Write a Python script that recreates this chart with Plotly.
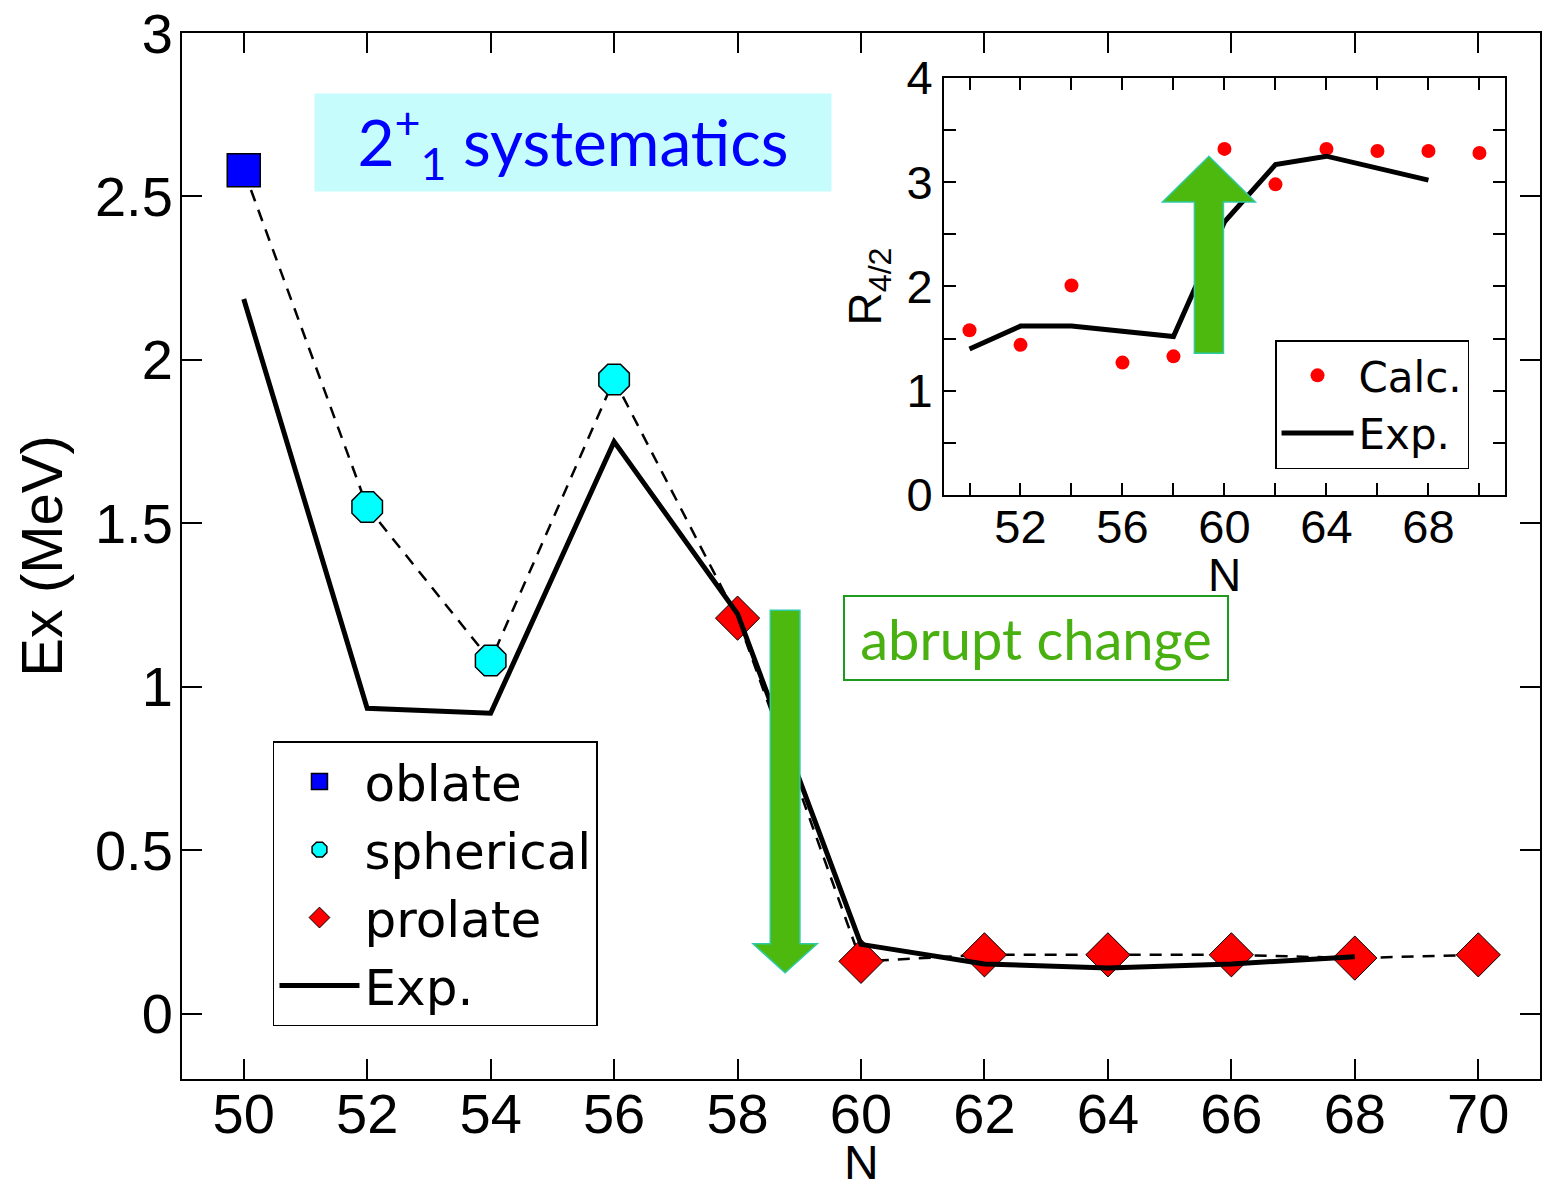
import plotly.graph_objects as go

# ---------------- Main panel data (E(2+_1) in MeV vs N) ----------------
oblate_N = [50]
oblate_E = [2.58]
spherical_N = [52, 54, 56]
spherical_E = [1.55, 1.08, 1.94]
prolate_N = [58, 60, 62, 64, 66, 68, 70]
prolate_E = [1.21, 0.16, 0.18, 0.18, 0.18, 0.17, 0.18]
exp_N = [50, 52, 54, 56, 58, 60, 62, 64, 66, 68]
exp_E = [2.186, 0.934, 0.919, 1.750, 1.223, 0.212, 0.152, 0.140, 0.152, 0.174]

# ---------------- Inset data (R4/2 vs N) ----------------
r42_calc_N = [50, 52, 54, 56, 58, 60, 62, 64, 66, 68, 70]
r42_calc = [1.58, 1.44, 2.01, 1.27, 1.33, 3.32, 2.98, 3.32, 3.30, 3.30, 3.28]
r42_exp_N = [50, 52, 54, 56, 58, 60, 62, 64, 66, 68]
r42_exp = [1.40, 1.62, 1.62, 1.57, 1.52, 2.62, 3.17, 3.25, 3.14, 3.02]

main_xticks = [50, 52, 54, 56, 58, 60, 62, 64, 66, 68, 70]
inset_xticks = [52, 56, 60, 64, 68]

FONT = "Liberation Sans, Arial, Helvetica, sans-serif"
LEGEND_FONT = "DejaVu Sans, Liberation Sans, sans-serif"
ARROW_FILL = "#4db80d"
ARROW_EDGE = "#2fcaa8"

MAIN_X_DOMAIN = [0.1179, 0.9974]
MAIN_Y_DOMAIN = [0.094, 0.9723]
INSET_X_DOMAIN = [0.6114, 0.9747]
INSET_Y_DOMAIN = [0.5844, 0.9345]

calc_N = oblate_N + spherical_N + prolate_N
calc_E = oblate_E + spherical_E + prolate_E

fig = go.Figure()

# dashed line connecting calculated points
fig.add_trace(go.Scatter(x=calc_N, y=calc_E, mode="lines",
                         line=dict(color="black", width=2.5, dash="12px,9px"),
                         showlegend=False, hoverinfo="skip"))
fig.add_trace(go.Scatter(x=oblate_N, y=oblate_E, mode="markers", name="oblate",
                         marker=dict(symbol="square", size=33, color="#0000ff",
                                     line=dict(color="black", width=1.5))))
fig.add_trace(go.Scatter(x=spherical_N, y=spherical_E, mode="markers", name="spherical",
                         marker=dict(symbol="octagon", size=33, color="#00ffff",
                                     line=dict(color="black", width=1.5))))
fig.add_trace(go.Scatter(x=prolate_N, y=prolate_E, mode="markers", name="prolate",
                         marker=dict(symbol="diamond", size=34, color="#ff0000",
                                     line=dict(color="black", width=1))))
fig.add_trace(go.Scatter(x=exp_N, y=exp_E, mode="lines", name="Exp.",
                         line=dict(color="black", width=5)))

# inset traces
fig.add_trace(go.Scatter(x=r42_calc_N, y=r42_calc, mode="markers", name="Calc.",
                         xaxis="x2", yaxis="y2", legend="legend2",
                         marker=dict(symbol="circle", size=14, color="#ff0000")))
fig.add_trace(go.Scatter(x=r42_exp_N, y=r42_exp, mode="lines", name="Exp.",
                         xaxis="x2", yaxis="y2", legend="legend2",
                         line=dict(color="black", width=5)))


def block_arrow(cx, shaft_half, head_half, start, base, tip):
    pts = [(cx - shaft_half, start), (cx + shaft_half, start), (cx + shaft_half, base),
           (cx + head_half, base), (cx, tip), (cx - head_half, base), (cx - shaft_half, base)]
    return "M " + " L ".join(f"{x},{y}" for x, y in pts) + " Z"


# down arrow in main panel
fig.add_shape(type="path", xref="x", yref="y", layer="above",
              path=block_arrow(58.77, 0.24, 0.52, 1.234, 0.214, 0.125),
              fillcolor=ARROW_FILL, line=dict(color=ARROW_EDGE, width=1.5))
# up arrow in inset
fig.add_shape(type="path", xref="x2", yref="y2", layer="above",
              path=block_arrow(59.39, 0.57, 1.82, 1.36, 2.81, 3.25),
              fillcolor=ARROW_FILL, line=dict(color=ARROW_EDGE, width=1.5))

axis_common = dict(showline=True, linewidth=2, linecolor="black", mirror="ticks",
                   ticks="inside", tickcolor="black", showgrid=False, zeroline=False,
                   automargin=False)

fig.update_layout(
    width=1544, height=1191,
    margin=dict(l=0, r=0, t=0, b=0, autoexpand=False),
    paper_bgcolor="white", plot_bgcolor="white",
    font=dict(family=FONT, color="black"),
    xaxis=dict(domain=MAIN_X_DOMAIN, range=[49, 71], tickvals=main_xticks,
               ticklen=20, tickwidth=1.5, tickfont=dict(size=56),
               ticklabelstandoff=-15, **axis_common),
    yaxis=dict(domain=MAIN_Y_DOMAIN, range=[-0.2, 3], dtick=0.5, tick0=0,
               ticklen=20, tickwidth=1.5, tickfont=dict(size=56), ticklabelstandoff=-4,
               title=dict(text="Ex (MeV)", font=dict(size=58), standoff=14), **axis_common),
    xaxis2=dict(domain=INSET_X_DOMAIN, anchor="y2", range=[49, 71], tickvals=inset_xticks,
                ticklen=12, tickwidth=1.5, tickfont=dict(size=47), ticklabelstandoff=-10,
                minor=dict(tick0=50, dtick=2, ticks="inside", ticklen=12, tickwidth=1.5,
                           tickcolor="black", showgrid=False),
                **axis_common),
    yaxis2=dict(domain=INSET_Y_DOMAIN, anchor="x2", range=[0, 4], dtick=1, tick0=0,
                ticklen=12, tickwidth=1.5, tickfont=dict(size=47),
                minor=dict(dtick=0.5, ticks="inside", ticklen=12, tickwidth=1.5,
                           tickcolor="black", showgrid=False),
                title=dict(text="R<sub>4/2</sub>", font=dict(size=46), standoff=10), **axis_common),
    legend=dict(x=0.1768, y=0.3778, xanchor="left", yanchor="top",
                bgcolor="white", bordercolor="black", borderwidth=1.5,
                font=dict(size=50, family=LEGEND_FONT), itemsizing="trace",
                itemwidth=80, tracegroupgap=0),
    legend2=dict(x=0.8258, y=0.7145, xanchor="left", yanchor="top",
                 bgcolor="white", bordercolor="black", borderwidth=1.5,
                 font=dict(size=42, family=LEGEND_FONT), itemsizing="trace",
                 itemwidth=72),
    annotations=[
        dict(text="N", xref="paper", yref="paper",
             x=sum(MAIN_X_DOMAIN) / 2, y=0.0, xanchor="center", yanchor="bottom",
             showarrow=False, font=dict(size=48)),
        dict(text="N", xref="paper", yref="paper",
             x=sum(INSET_X_DOMAIN) / 2, y=0.5172, xanchor="center", yanchor="middle",
             showarrow=False, font=dict(size=46)),
        dict(text="2<sup>+</sup><sub>1</sub> systematics", xref="paper", yref="paper",
             x=0.3711, y=0.8804, xanchor="center", yanchor="middle", showarrow=False,
             width=514, height=95, bgcolor="#c6fcfc",
             font=dict(size=64, color="#0000ff", family="Lato, Noto Sans, sans-serif")),
        dict(text="abrupt change", xref="paper", yref="paper",
             x=0.6713, y=0.4647, xanchor="center", yanchor="middle", showarrow=False,
             width=380, height=80, bgcolor="white", bordercolor="#1e9a1e", borderwidth=2,
             font=dict(size=56, color="#48b010", family="Lato, Noto Sans, sans-serif")),
    ],
)

fig.write_html("out.html")
